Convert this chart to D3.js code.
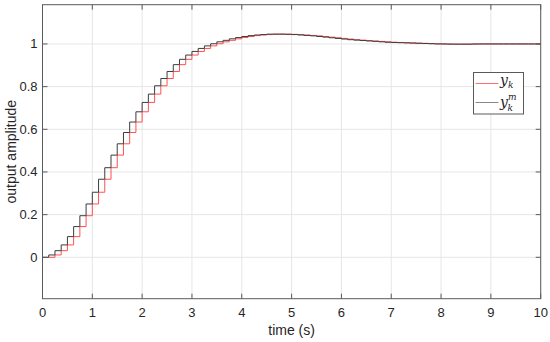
<!DOCTYPE html>
<html><head><meta charset="utf-8">
<script src="https://cdn.jsdelivr.net/npm/d3@7/dist/d3.min.js"></script>
<style>body{margin:0;background:#fff}svg{display:block}</style>
</head><body><svg id="c" width="550" height="342"></svg>
<script>
// sample time (s)
const sampleTime = 0.125;
// model output y_k^m (black), one value per sample interval starting at k*T
const modelOutput = [
  0.000, 0.011, 0.031, 0.058, 0.097, 0.144, 0.195, 0.250,
  0.305, 0.366, 0.420, 0.479, 0.532, 0.585, 0.634, 0.682,
  0.726, 0.765, 0.804, 0.838, 0.871, 0.903, 0.928, 0.948,
  0.965, 0.979, 0.991, 1.001, 1.010, 1.017, 1.024, 1.030,
  1.035, 1.039, 1.042, 1.044, 1.046, 1.046, 1.046, 1.045,
  1.044, 1.042, 1.040, 1.038, 1.035, 1.032, 1.029, 1.026,
  1.023, 1.020, 1.018, 1.016, 1.014, 1.012, 1.010, 1.008,
  1.007, 1.006, 1.005, 1.004, 1.003, 1.002, 1.001, 1.000,
  1.000, 0.999, 0.999, 0.999, 0.999, 1.000, 1.000, 1.000,
  1.000, 1.000, 1.000, 1.000, 1.000, 1.000, 1.000, 1.000
];
const xTicks = [0,1,2,3,4,5,6,7,8,9,10];
const yTicks = [0,0.2,0.4,0.6,0.8,1];
const xLabel = "time (s)";
const yLabel = "output amplitude";

const svg = d3.select("#c");
const L = 42.5, R = 540.7, T = 4.7, B = 298.7;
const x = d3.scaleLinear().domain([0,10]).range([L,R]);
const y = d3.scaleLinear().domain([-0.194,1.184]).range([B,T]);

// grid
const g = svg.append("g");
g.selectAll("line.gx").data(xTicks).join("line")
  .attr("x1",d=>x(d)).attr("x2",d=>x(d)).attr("y1",T).attr("y2",B)
  .attr("stroke","#e6e6e6").attr("stroke-width",1);
g.selectAll("line.gy").data(yTicks).join("line")
  .attr("class","gy")
  .attr("x1",L).attr("x2",R).attr("y1",d=>y(d)).attr("y2",d=>y(d))
  .attr("stroke","#e6e6e6").attr("stroke-width",1);

// series
const blackPts = modelOutput.map((v,k)=>[k*sampleTime, v]);
blackPts.push([10, modelOutput[modelOutput.length-1]]);
const redPts = modelOutput.map((v,k)=>[(k+1)*sampleTime, v]);
const line = d3.line().x(d=>x(d[0])).y(d=>y(d[1])).curve(d3.curveStepAfter);
svg.append("path").attr("d",line(redPts)).attr("fill","none")
  .attr("stroke","#ff5050").attr("stroke-width",1);
svg.append("path").attr("d",line(blackPts)).attr("fill","none")
  .attr("stroke","#3c3c3c").attr("stroke-width",1);

// axes (box with inward ticks)
const axCol = "#5a5a5a";
const ax = svg.append("g");
ax.append("rect").attr("x",L).attr("y",T).attr("width",R-L).attr("height",B-T)
  .attr("fill","none").attr("stroke",axCol).attr("stroke-width",1);
const tl = 5;
xTicks.forEach(d=>{
  ax.append("line").attr("x1",x(d)).attr("x2",x(d)).attr("y1",B).attr("y2",B-tl).attr("stroke",axCol);
  ax.append("line").attr("x1",x(d)).attr("x2",x(d)).attr("y1",T).attr("y2",T+tl).attr("stroke",axCol);
});
yTicks.forEach(d=>{
  ax.append("line").attr("x1",L).attr("x2",L+tl).attr("y1",y(d)).attr("y2",y(d)).attr("stroke",axCol);
  ax.append("line").attr("x1",R).attr("x2",R-tl).attr("y1",y(d)).attr("y2",y(d)).attr("stroke",axCol);
});
const font = "Liberation Sans, Arial, sans-serif";
ax.selectAll("text.xt").data(xTicks).join("text")
  .attr("x",d=>x(d)).attr("y",317).attr("text-anchor","middle")
  .attr("font-family",font).attr("font-size",13).attr("fill","#262626").text(d=>d);
ax.selectAll("text.yt").data(yTicks).join("text")
  .attr("class","yt")
  .attr("x",37.5).attr("y",d=>y(d)+4.5).attr("text-anchor","end")
  .attr("font-family",font).attr("font-size",13).attr("fill","#262626").text(d=>d);
svg.append("text").attr("x",(L+R)/2).attr("y",335).attr("text-anchor","middle")
  .attr("font-family",font).attr("font-size",14).attr("fill","#262626").text(xLabel);
svg.append("text").attr("transform",`translate(16,${(T+B)/2}) rotate(-90)`)
  .attr("text-anchor","middle")
  .attr("font-family",font).attr("font-size",14).attr("fill","#262626").text(yLabel);

// legend
const lg = svg.append("g");
lg.append("rect").attr("x",473.5).attr("y",72.5).attr("width",50).attr("height",41.5)
  .attr("fill","#fff").attr("stroke","#5a5a5a");
lg.append("line").attr("x1",475.5).attr("x2",498.5).attr("y1",83.5).attr("y2",83.5)
  .attr("stroke","#ff7070");
lg.append("line").attr("x1",475.5).attr("x2",498.5).attr("y1",102.5).attr("y2",102.5)
  .attr("stroke","#888");
const serif = "DejaVu Serif, Liberation Serif, serif";
const t1 = lg.append("text").attr("x",500).attr("y",85).attr("font-family",serif)
  .attr("font-style","italic").attr("font-size",14).attr("fill","#222");
t1.append("tspan").text("y");
t1.append("tspan").attr("dy",3).attr("font-size",9).text("k");
const t2 = lg.append("text").attr("x",500).attr("y",106.5).attr("font-family",serif)
  .attr("font-style","italic").attr("font-size",14).attr("fill","#222");
t2.append("tspan").text("y");
t2.append("tspan").attr("dy",-6.5).attr("font-size",9).text("m");
t2.append("tspan").attr("x",507.5).attr("dy",11).attr("font-size",9).text("k");
</script></body></html>
